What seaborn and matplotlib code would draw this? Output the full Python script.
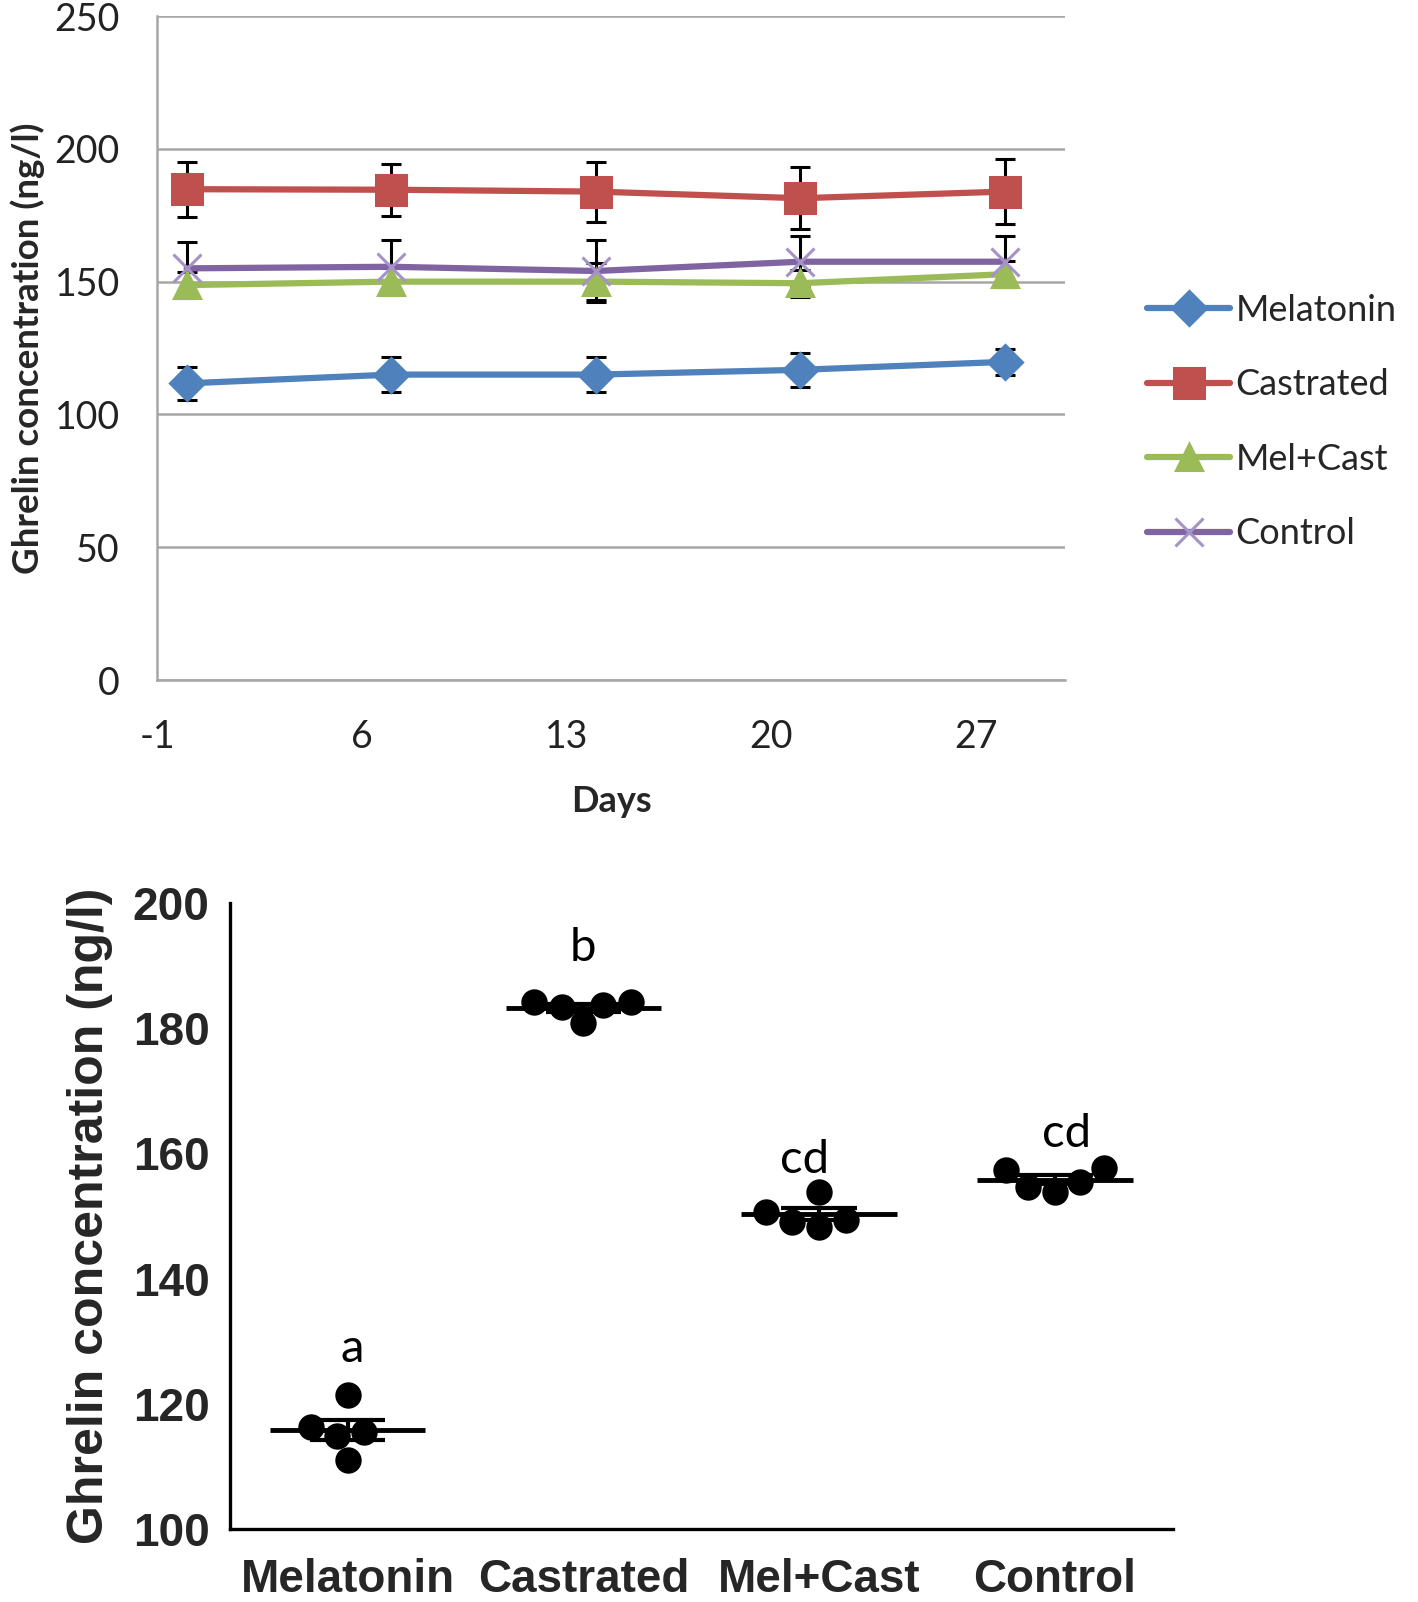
import numpy as np
import pandas as pd
import matplotlib
matplotlib.use("Agg")
import matplotlib.pyplot as plt
import seaborn as sns

# ---- top panel: weekly means with error bars ----
days = [0, 7, 14, 21, 28]
groups = ["Melatonin", "Castrated", "Mel+Cast", "Control"]
melatonin_mean = [111.7, 115.0, 115.0, 116.8, 119.8]
melatonin_err = [6.3, 6.5, 6.5, 6.3, 5.0]
castrated_mean = [184.8, 184.6, 183.9, 181.4, 183.9]
castrated_err = [10.3, 9.8, 11.3, 11.7, 12.2]
melcast_mean = [148.7, 150.0, 150.0, 149.4, 152.8]
melcast_err = [5.0, 5.0, 7.0, 5.0, 5.0]
control_mean = [155.0, 155.6, 154.0, 157.5, 157.5]
control_err = [10.0, 10.0, 11.5, 9.5, 9.5]

# ---- bottom panel: individual values per group ----
melatonin_pts = [115.5, 121.4, 111.0, 114.9, 116.3]
castrated_pts = [184.2, 183.4, 180.8, 183.7, 184.2]
melcast_pts = [153.9, 149.4, 148.3, 149.1, 150.7]
control_pts = [157.3, 155.5, 153.9, 154.7, 157.6]
sig_letters = ["a", "b", "cd", "cd"]
letter_y = [128.8, 192.8, 159.0, 163.1]
letter_x = [0.02, 1.0, 1.94, 3.05]

colors = {"Melatonin": "#4F81BD", "Castrated": "#C0504D",
          "Mel+Cast": "#9BBB59", "Control": "#8064A2"}
markers = {"Melatonin": "D", "Castrated": "s", "Mel+Cast": "^", "Control": "x"}
msizes = {"Melatonin": 17, "Castrated": 21, "Mel+Cast": 19, "Control": 20}

sns.set_style("white")
plt.rcParams["font.family"] = ["Lato", "DejaVu Sans"]
plt.rcParams["axes.unicode_minus"] = False

fig = plt.figure(figsize=(14.18, 16.02), dpi=100)

# ================= top panel =================
ax1 = fig.add_axes([0.111, 0.5755, 0.64, 0.4145])
means = [melatonin_mean, castrated_mean, melcast_mean, control_mean]
errs = [melatonin_err, castrated_err, melcast_err, control_err]
for g, m, e in zip(groups, means, errs):
    ax1.errorbar(days, m, yerr=e, fmt="none", ecolor="black",
                 elinewidth=2.2, capsize=7, capthick=2.2, zorder=2)
for g, m in zip(groups, means):
    c = colors[g]
    edge = "#A593C8" if g == "Control" else c
    sns.lineplot(x=days, y=m, ax=ax1, color=c, linewidth=4.5,
                 marker=markers[g], markersize=msizes[g],
                 markerfacecolor=c, markeredgecolor=edge,
                 markeredgewidth=2.2, label=g, zorder=3)

ax1.set_xlim(-1, 30.05)
ax1.set_ylim(0, 250)
ax1.set_xticks([-1, 6, 13, 20, 27])
ax1.set_yticks([0, 50, 100, 150, 200, 250])
ax1.yaxis.grid(True, color="#A6A6A6", linewidth=1.8)
ax1.xaxis.grid(False)
for s in ["top", "right"]:
    ax1.spines[s].set_visible(False)
for s in ["left", "bottom"]:
    ax1.spines[s].set_color("#A6A6A6")
    ax1.spines[s].set_linewidth(1.8)
ax1.tick_params(axis="both", direction="out", length=10, width=1.8,
                color="#A6A6A6", labelsize=27, labelcolor="#222222")
ax1.tick_params(axis="x", pad=18)
ax1.tick_params(axis="y", pad=17)
ax1.set_xlabel("Days", fontsize=26, fontweight="bold", labelpad=22)
ax1.set_ylabel("Ghrelin concentration (ng/l)", fontsize=26.5,
               fontweight="bold")
ax1.yaxis.set_label_coords(-0.124, 0.5)
ax1.get_legend().remove()
handles, labels = ax1.get_legend_handles_labels()
fig.legend(handles, labels, loc="center left",
           bbox_to_anchor=(0.786, 0.7366), frameon=False, fontsize=26,
           handlelength=2.3, handletextpad=0.15, labelspacing=1.15)

# ================= bottom panel =================
ax2 = fig.add_axes([0.162, 0.0456, 0.665, 0.3907])
pts = pd.DataFrame({
    "group": np.repeat(groups, 5),
    "value": melatonin_pts + castrated_pts + melcast_pts + control_pts,
})
sns.swarmplot(data=pts, x="group", y="value", order=groups, color="black",
              size=19, ax=ax2, zorder=3)

vals = [melatonin_pts, castrated_pts, melcast_pts, control_pts]
for i, v in enumerate(vals):
    mu = np.mean(v)
    se = np.std(v, ddof=1) / np.sqrt(len(v))
    ax2.hlines(mu, i - 0.33, i + 0.33, color="black", linewidth=3.5,
               zorder=4)
    ax2.vlines(i, mu - se, mu + se, color="black", linewidth=3, zorder=4)
    ax2.hlines([mu - se, mu + se], i - 0.16, i + 0.16, color="black",
               linewidth=3, zorder=4)

for x, y, t in zip(letter_x, letter_y, sig_letters):
    ax2.text(x, y, t, ha="center", va="center", fontsize=34,
             family=["Lato", "DejaVu Sans"], color="black")

ax2.set_xlim(-0.5, 3.5)
ax2.set_ylim(100, 200)
ax2.set_yticks([100, 120, 140, 160, 180, 200])
for s in ["top", "right"]:
    ax2.spines[s].set_visible(False)
for s in ["left", "bottom"]:
    ax2.spines[s].set_color("black")
    ax2.spines[s].set_linewidth(2.4)
ax2.tick_params(axis="both", direction="out", length=11, width=2.4,
                color="black")
ax2.tick_params(axis="x", pad=10)
ax2.set_xlabel("")
ax2.set_ylabel("Ghrelin concentration (ng/l)", fontsize=36,
               fontweight="bold", family=["Liberation Sans", "DejaVu Sans"],
               labelpad=14)
for lab in ax2.get_xticklabels() + ax2.get_yticklabels():
    lab.set_fontfamily(["Liberation Sans", "DejaVu Sans"])
    lab.set_fontweight("bold")
    lab.set_fontsize(33)

fig.savefig("out.png", dpi=100)
